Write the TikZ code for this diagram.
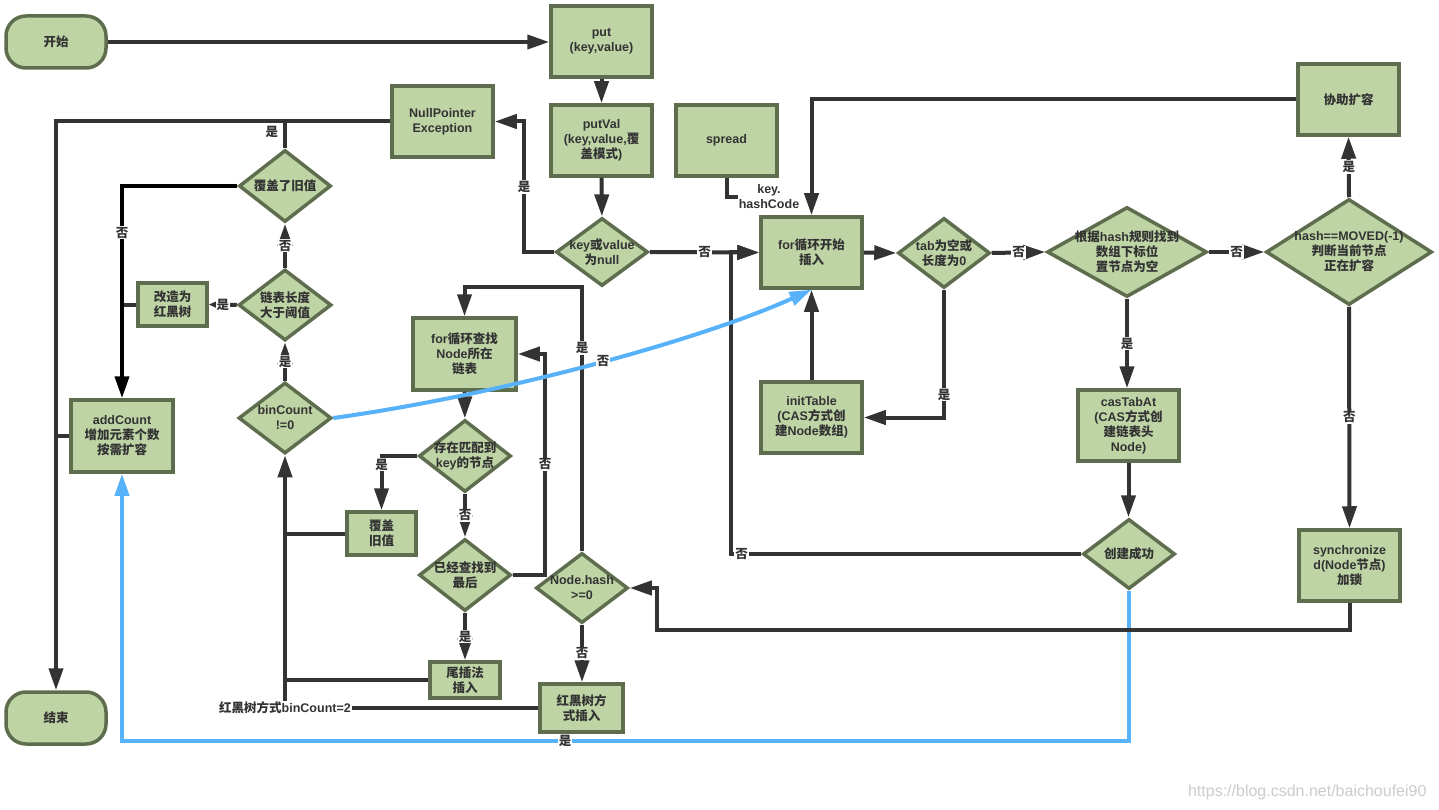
\documentclass[tikz,border=0pt]{standalone}
\usepackage{fontspec}
\setmainfont{Liberation Sans}
\newfontfamily\cjkfont{Noto Sans CJK SC}
\usetikzlibrary{shapes.geometric,arrows.meta}
\newXeTeXintercharclass\mycjkclass
\count255=32
\loop\XeTeXcharclass\count255=0 \advance\count255 by 1 \ifnum\count255<127 \repeat
\count255="4E00
\loop\XeTeXcharclass\count255=\mycjkclass \advance\count255 by 1 \ifnum\count255<"A000 \repeat
\XeTeXinterchartoks 0 \mycjkclass = {\begingroup\cjkfont}
\XeTeXinterchartoks 4095 \mycjkclass = {\begingroup\cjkfont}
\XeTeXinterchartoks \mycjkclass 0 = {\endgroup}
\XeTeXinterchartoks \mycjkclass 4095 = {\endgroup}
\XeTeXinterchartokenstate=1
\definecolor{nodef}{HTML}{BED4A5}
\definecolor{nodeb}{HTML}{5D6D4E}
\definecolor{lc}{HTML}{333333}
\definecolor{txt}{HTML}{333333}
\definecolor{bl}{HTML}{57B2FA}
\definecolor{wm}{HTML}{CCCCCC}
\newcommand\lblfont{\fontsize{12.5}{15}\selectfont\bfseries}
\tikzset{
 box/.style={draw=nodeb, fill=nodef, line width=3.5pt, minimum width=101pt, minimum height=71pt, align=center, inner sep=2pt, font=\lblfont, text=txt},
 term/.style={box, rounded corners=20pt, minimum width=100pt, minimum height=52pt},
 dia/.style 2 args={diamond, draw=nodeb, fill=nodef, line width=3.5pt, inner sep=0pt, minimum width=#1pt, minimum height=#2pt},
 dtx/.style={align=center, font=\lblfont, text=txt, inner sep=0pt},
 ln/.style={draw=lc, line width=4pt},
 arr/.style={ln, -{Triangle[length=22pt,width=14pt]}},
 sarr/.style={ln, -{Triangle[length=11pt,width=9pt]}},
 barr/.style={draw=bl, line width=4pt, -{Triangle[length=22pt,width=14pt]}},
 lab/.style={fill=white, inner sep=1pt, font=\lblfont, text=txt},
}
\begin{document}
\begin{tikzpicture}[x=1pt,y=-1pt]
\useasboundingbox[fill=white] (0,0) rectangle (1439,810);
% nodes
\node[term] (start) at (56,42) {开始};
\node[term] (end) at (56,718) {结束};
\node[box] (put) at (601.5,41.5) {put\\(key,value)};
\node[box] (putval) at (601.5,140.5) {putVal\\(key,value,覆\\盖模式)};
\node[box] (spread) at (726.5,140.5) {spread};
\node[box] (npe) at (442.5,121.5) {NullPointer\\Exception};
\node[box] (for) at (811.5,252.5) {for循环开始\\插入};
\node[box] (init) at (811.5,417.5) {initTable\\(CAS方式创\\建Node数组)};
\node[box] (cas) at (1128.5,425.5) {casTabAt\\(CAS方式创\\建链表头\\Node)};
\node[box] (sync) at (1349.5,565.5) {synchronize\\d(Node节点)\\加锁};
\node[box] (help) at (1348.5,99.5) {协助扩容};
\node[box, minimum width=83pt, minimum height=48pt] (rb) at (581.5,708) {红黑树方\\式插入};
\node[box, minimum width=103pt, minimum height=72pt] (lk) at (464.5,354) {for循环查找\\Node所在\\链表};
\node[box, minimum width=69pt, minimum height=43pt] (cov) at (381.5,533.5) {覆盖\\旧值};
\node[box, minimum width=70pt, minimum height=36pt] (tail) at (465,680) {尾插法\\插入};
\node[box, minimum width=69pt, minimum height=43pt] (gz) at (172.5,304.5) {改造为\\红黑树};
\node[box, minimum width=102pt, minimum height=72pt] (add) at (122,436) {addCount\\增加元素个数\\按需扩容};
% diamonds
\node[dia={92}{68}, label={[dtx]center:{key或value\\为null}}] (kv) at (602,252) {};
\node[dia={92}{70}, label={[dtx]center:{tab为空或\\长度为0}}] (tab) at (944,253) {};
\node[dia={160}{90}, label={[dtx]center:{根据hash规则找到\\数组下标位\\置节点为空}}] (hr) at (1127,252) {};
\node[dia={166}{106}, label={[dtx]center:{hash==MOVED(-1)\\判断当前节点\\正在扩容}}] (mv) at (1349,252) {};
\node[dia={92}{70}, label={[dtx]center:{创建成功}}] (cs) at (1129,554) {};
\node[dia={92}{70}, label={[dtx]center:{Node.hash\\>=0}}] (nh) at (582,588) {};
\node[dia={92}{72}, label={[dtx]center:{存在匹配到\\key的节点}}] (match) at (465,456) {};
\node[dia={92}{72}, label={[dtx]center:{已经查找到\\最后}}] (last) at (465,575) {};
\node[dia={93}{71}, label={[dtx]center:{binCount\\!=0}}] (bc) at (285,418) {};
\node[dia={93}{71}, label={[dtx]center:{链表长度\\大于阈值}}] (len) at (285,305) {};
\node[dia={92}{72}, label={[dtx]center:{覆盖了旧值}}] (fg) at (285,186) {};
\coordinate (kh) at (769,197);
% connectors
\draw[arr] (start.east) -- (start.east -| put.west);
\draw[arr] (put) -- (putval);
\draw[arr] (putval) -- (kv);
\draw[arr] (kv.west) -- (524,252) -- node[lab]{是} (524,121.5) -- (npe.east);
\draw[arr] (kv.east) -- node[lab]{否} (for.west);
\draw[ln] (spread.south) |- (kh) node[lab, align=center]{key.\\hashCode};
\draw[arr] (help.west) -| (for.north);
\draw[arr] (for.east) -- (tab.west);
\draw[arr] (tab.east) -- node[lab]{否} (hr.west);
\draw[arr] (hr.east) -- node[lab]{否} (mv.west);
\draw[arr] (mv.north) -- node[lab]{是} (help.south);
\draw[arr] (mv.south) -- node[lab]{否} (sync.north);
\draw[arr] (tab.south) |- node[lab, pos=0.41]{是} (init.east);
\draw[arr] (init) -- (for);
\draw[arr] (hr.south) -- node[lab]{是} (hr.south |- cas.north);
\draw[arr] (cas.south) -- (cas.south |- cs.north);
\draw[arr] (cs.west) -- node[lab, pos=0.97]{否} (731,554) -- (731,252.5) -- (for.west);
\draw[barr] (cs.south) -- (1129,741) -- node[lab, pos=0.56]{是} (122,741) -- (add.south);
\draw[arr] (sync.south) |- (657,630) |- (nh.east);
\draw[arr] (nh.south) -- node[lab]{否} (nh.south |- rb.north);
\draw[arr] (nh.north) -- node[lab, pos=0.77]{是} (582,287) -| (lk.north);
\draw[arr] (lk) -- (match);
\draw[arr] (match.west) -| node[lab, pos=0.58]{是} (cov.north);
\draw[arr] (match) -- node[lab]{否} (last);
\draw[arr] (last.east) -| node[lab, pos=0.75]{否} (545,354) -- (lk.east);
\draw[arr] (last) -- node[lab]{是} (tail);
\draw[ln] (cov.west) -- (cov.west -| bc.south);
\draw[ln] (tail.west) -- (tail.west -| bc.south);
\draw[arr] (rb.west) -- (bc.south |- rb.west) node[lab]{红黑树方式binCount=2} -- (bc.south);
\draw[arr] (bc.north) -- node[lab]{是} (len.south);
\draw[barr] (bc.east) .. controls (500,395) and (700,340) .. node[lab, pos=0.52]{否} (for.south);
\draw[arr] (len.north) -- node[lab]{否} (fg.south);
\draw[sarr] (len.west) -- node[lab]{是} (gz.east);
\draw[ln] (gz.west) -- (gz.west -| add.north);
\draw[arr, draw=black] (fg.west) -- (add.north |- fg.west) -- node[lab, pos=0.22]{否} (add.north);
\draw[ln] (fg.north) -- node[lab, left=4pt, pos=0.6]{是} (fg.north |- npe.west);
\draw[arr] (npe.west) -| (end.north);
\draw[ln] (add.west) -- (add.west -| end.north);
\node[text=wm, font=\fontsize{16}{16}\selectfont, anchor=east] (wmark) at (1430,792) {https://blog.csdn.net/baichoufei90};
\end{tikzpicture}
\end{document}
